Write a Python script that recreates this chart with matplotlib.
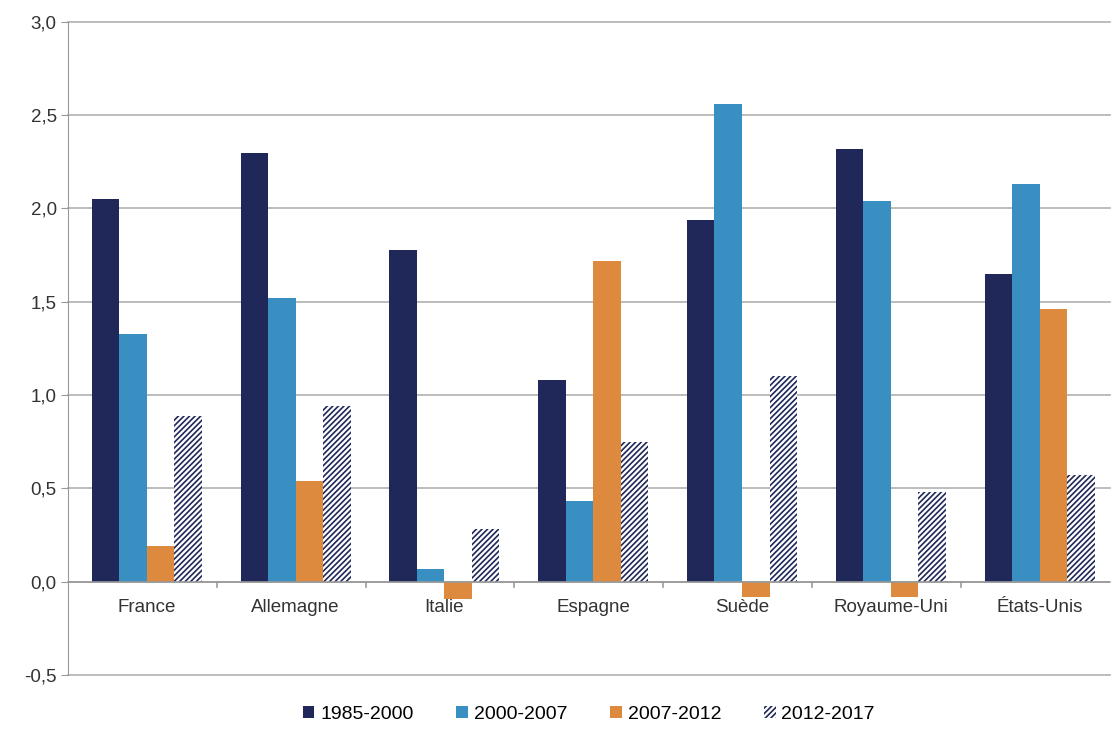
import matplotlib
matplotlib.use("Agg")
import matplotlib.pyplot as plt
import numpy as np

plt.rcParams['font.family'] = ['Liberation Sans', 'DejaVu Sans']
plt.rcParams['hatch.linewidth'] = 1.2

pays = ['France', 'Allemagne', 'Italie', 'Espagne', 'Suède', 'Royaume-Uni', 'États-Unis']
periodes = ['1985-2000', '2000-2007', '2007-2012', '2012-2017']
v_1985_2000 = [2.05, 2.30, 1.78, 1.08, 1.94, 2.32, 1.65]
v_2000_2007 = [1.33, 1.52, 0.07, 0.43, 2.56, 2.04, 2.13]
v_2007_2012 = [0.19, 0.54, -0.09, 1.72, -0.08, -0.08, 1.46]
v_2012_2017 = [0.89, 0.94, 0.28, 0.75, 1.10, 0.48, 0.57]
yticks = [-0.5, 0.0, 0.5, 1.0, 1.5, 2.0, 2.5, 3.0]

navy = '#1f2859'
blue = '#3a8fc2'
orange = '#dd8a3f'

fig = plt.figure(figsize=(11.14, 7.29), dpi=100)
ax = fig.add_axes([0.061, 0.074, 0.935, 0.896])

x = np.arange(len(pays))
w = 0.185
series = [v_1985_2000, v_2000_2007, v_2007_2012, v_2012_2017]
for i, (vals, lab) in enumerate(zip(series, periodes)):
    off = (i - 1.5) * w + 0.03
    if i < 3:
        ax.bar(x + off, vals, w, color=[navy, blue, orange][i], label=lab, zorder=3)
    else:
        ax.bar(x + off, vals, w, facecolor='white', edgecolor=navy, hatch='//////',
               linewidth=0, label=lab, zorder=3)

ax.set_xlim(-0.5, len(pays) - 0.5)
ax.set_ylim(-0.5, 3.0)
ax.set_yticks(yticks)
ax.set_yticklabels([f"{t:.1f}".replace('.', ',') for t in yticks], fontsize=13.5, color='#333333')
for t in yticks:
    ax.axhline(t, color='#b0b0b0', linewidth=1.2, zorder=0, clip_on=False)

for s in ['top', 'right', 'bottom']:
    ax.spines[s].set_visible(False)
ax.spines['left'].set_color('#999999')
ax.tick_params(axis='y', length=5, color='#999999', pad=3)

# x axis line at zero with ticks between categories
ax.axhline(0, color='#999999', linewidth=1.2, zorder=4)
for b in np.arange(0.5, len(pays) - 0.5, 1):
    ax.plot([b, b], [0, -0.03], color='#999999', linewidth=1.2, zorder=4)
ax.set_xticks([])
for xi, p in zip(x, pays):
    ax.text(xi + 0.03, -0.095, p, ha='center', va='top', fontsize=13.5, color='#333333')

ax.legend(loc='upper center', bbox_to_anchor=(0.5, -0.02), ncol=4, frameon=False,
          fontsize=14, handlelength=0.6, handleheight=0.6, handletextpad=0.3,
          columnspacing=2.2)

fig.savefig('out.png', dpi=100)
